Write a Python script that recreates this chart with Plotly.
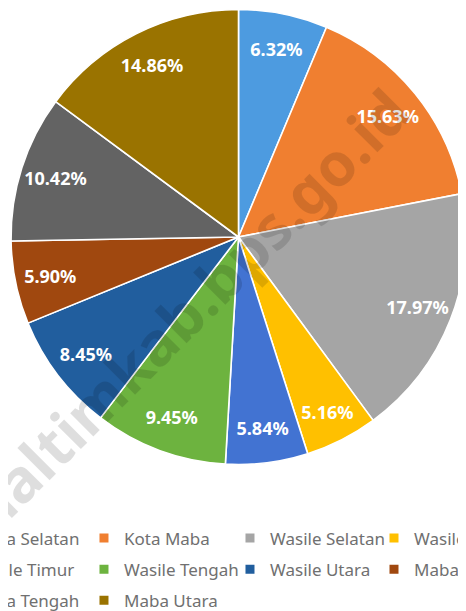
import plotly.graph_objects as go

# ---- data ----
categories = ["Maba Selatan", "Kota Maba", "Wasile Selatan", "Wasile", "Wasile Timur",
              "Wasile Tengah", "Wasile Utara", "Maba", "Maba Tengah", "Maba Utara"]
shares = [6.32, 15.63, 17.97, 5.16, 5.84, 9.45, 8.45, 5.90, 10.42, 14.86]
watermark = "haltimkab.bps.go.id"

# ---- styles ----
colors = ["#4D9BE0", "#F07F30", "#A5A5A5", "#FFC000", "#4273D2",
          "#6DB33F", "#215E9E", "#A0480F", "#636363", "#9A7300"]
FONT = "Noto Sans"
pie_domain = dict(x=[0, 1], y=[0.2430, 0.9975])

fig = go.Figure()

# main pie (slices)
fig.add_trace(go.Pie(
    labels=categories, values=shares, sort=False, direction="clockwise", rotation=0,
    marker=dict(colors=colors, line=dict(color="#FFFFFF", width=1.6)),
    textinfo="none", showlegend=False, domain=pie_domain,
    hoverinfo="label+value",
))

# transparent overlay ring carrying the percentage labels near the rim
fig.add_trace(go.Pie(
    labels=categories, values=shares, sort=False, direction="clockwise", rotation=0,
    hole=0.69,
    marker=dict(colors=["rgba(0,0,0,0)"] * len(categories), line=dict(width=0)),
    texttemplate="%{value:.2f}%", textposition="inside",
    insidetextorientation="horizontal",
    insidetextfont=dict(color="#FFFFFF", size=18, family=FONT, weight="bold"),
    showlegend=False, domain=pie_domain, hoverinfo="skip",
))

# legend entries (4 columns, clipped at both sides like the reference)
ncols = 4
for i, (cat, col) in enumerate(zip(categories, colors)):
    c = i % ncols
    lg = "legend" if c == 0 else f"legend{c + 1}"
    fig.add_trace(go.Scatter(
        x=[None], y=[None], mode="markers", name=cat,
        marker=dict(symbol="square", size=9, color=col),
        legend=lg, legendgroup=cat, showlegend=True, hoverinfo="skip",
    ))

col_x = [-0.1758, 0.1604, 0.4813, 0.7978]
legend_common = dict(
    orientation="v", xref="paper", yref="container", y=0.150,
    xanchor="left", yanchor="top", traceorder="grouped", tracegroupgap=6,
    font=dict(family=FONT, size=17, color="#707070"),
    bgcolor="rgba(0,0,0,0)", itemclick=False, itemdoubleclick=False,
)
layout_legends = {}
for c in range(ncols):
    key = "legend" if c == 0 else f"legend{c + 1}"
    layout_legends[key] = dict(legend_common, x=col_x[c])

fig.add_annotation(
    text=watermark, xref="paper", yref="paper", x=0.387, y=0.500,
    showarrow=False, textangle=-45,
    font=dict(family=FONT, size=60, weight="bold", color="rgba(0,0,0,0.13)"),
)

fig.update_layout(
    width=458, height=603,
    margin=dict(l=3, r=0, t=0, b=0, autoexpand=False),
    paper_bgcolor="#FFFFFF", plot_bgcolor="#FFFFFF",
    xaxis=dict(visible=False), yaxis=dict(visible=False),
    showlegend=True,
    **layout_legends,
)

fig.write_html("out.html")
